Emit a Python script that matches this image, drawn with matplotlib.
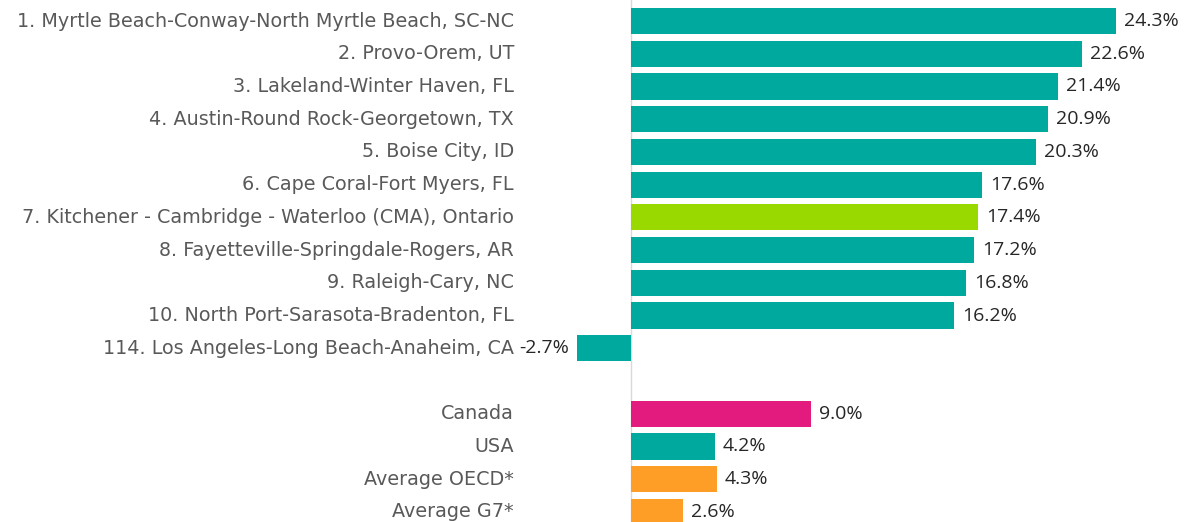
import numpy as np
import matplotlib.pyplot as plt
plt.rcParams.update({'font.size': 13.8, 'font.family': ['DejaVu Sans']})

names = ["1. Myrtle Beach-Conway-North Myrtle Beach, SC-NC",
         "2. Provo-Orem, UT",
         "3. Lakeland-Winter Haven, FL",
         "4. Austin-Round Rock-Georgetown, TX",
         "5. Boise City, ID",
         "6. Cape Coral-Fort Myers, FL",
         "7. Kitchener - Cambridge - Waterloo (CMA), Ontario",
         "8. Fayetteville-Springdale-Rogers, AR",
         "9. Raleigh-Cary, NC",
         "10. North Port-Sarasota-Bradenton, FL",
         "114. Los Angeles-Long Beach-Anaheim, CA",
         "",
         "Canada",
         "USA",
         "Average OECD*",
         "Average G7*"]
values = [24.3, 22.6, 21.4, 20.9, 20.3, 17.6, 17.4, 17.2, 16.8, 16.2, -2.7,
          np.nan, 9.0, 4.2, 4.3, 2.6]

teal = "#00a99d"
colors = [teal] * 6 + ["#99d900"] + [teal] * 4 + ["white", "#e31b7f", teal, "#ff9e27", "#ff9e27"]

fig = plt.figure(figsize=(11.94, 5.22), dpi=100)
pxu = (1116 - 631) / 24.3
x0 = -(631 - 577) / pxu
x1 = (1194 - 631) / pxu
ax = fig.add_axes([577 / 1194, 0, 1 - 577 / 1194, 1])

pos = np.arange(len(names))
vals = np.nan_to_num(values)
ax.barh(pos, vals, height=0.8, color=colors)
ax.axvline(0, color="#d9d9d9", lw=1, zorder=0)

lab_x = -(631 - 514) / pxu
off = 8 / pxu
vfont = dict(family=['Open Sans', 'DejaVu Sans'], size=14, color="#262626")
for i, (n, v) in enumerate(zip(names, values)):
    if n:
        ax.text(lab_x, i, n, ha="right", va="center", color="#595959", clip_on=False)
    if not np.isnan(v):
        if v >= 0:
            ax.text(v + off, i, f"{v:.1f}%", ha="left", va="center", **vfont)
        else:
            ax.text(v - off, i, f"{v:.1f}%", ha="right", va="center", **vfont)

ax.set_xlim(x0, x1)
ax.set_ylim((522 - 21) / 32.73, -21 / 32.73)
ax.axis("off")

fig.savefig("out.png", dpi=100)
